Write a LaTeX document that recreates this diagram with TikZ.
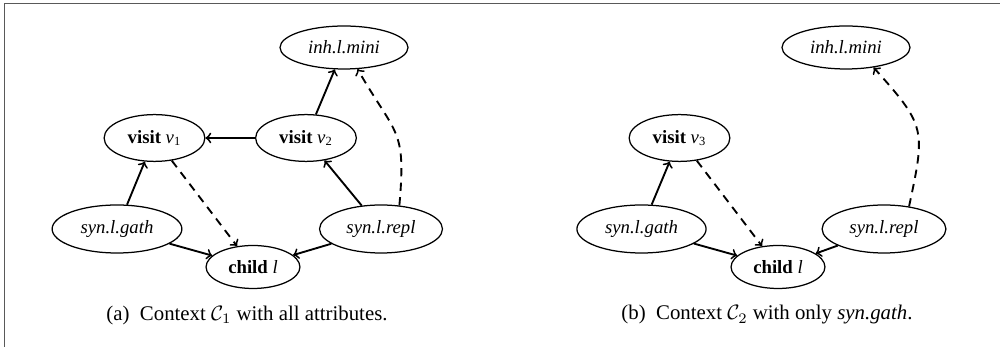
\documentclass[tikz,border=0pt]{standalone}
\usepackage{fontspec}
\setmainfont{Liberation Serif}
\usetikzlibrary{shapes.geometric}
\tikzset{
  attr/.style={ellipse, draw, semithick, inner sep=0pt, font=\small},
  wide/.style={minimum width=2.16cm, minimum height=0.725cm},
  vis/.style={minimum width=1.70cm, minimum height=0.79cm},
  syn/.style={minimum height=0.81cm},
  chl/.style={minimum width=1.585cm, minimum height=0.725cm},
  dep/.style={->, line width=0.9pt},
  ddep/.style={->, line width=0.9pt, dash pattern=on 4pt off 3pt},
  captext/.style={font=\normalsize, inner sep=0pt},
  frameline/.style={draw=black!65, line width=0.9pt}
}
\begin{document}
\begin{tikzpicture}[x=0.01687cm, y=-0.01687cm]
\useasboundingbox (0,0) rectangle (1000,347);
\coordinate (ftr) at (1000,3.5);
\coordinate (ftl) at (4.5,3.5);
\coordinate (fbl) at (4.5,347);
\draw[frameline] (ftr) -- (ftl) -- (fbl);

% (a)
\node[attr, wide] (ma) at (344,47.5) {\textit{inh.l.mini}};
\node[attr, vis] (v1) at (154.5,138) {\textbf{visit} \textit{v}\textsubscript{1}};
\node[attr, vis] (v2) at (306,138) {\textbf{visit} \textit{v}\textsubscript{2}};
\node[attr, syn, minimum width=2.19cm] (ga) at (117,229) {\textit{syn.l.gath}};
\node[attr, syn, minimum width=2.075cm] (ra) at (381,229) {\textit{syn.l.repl}};
\node[attr, chl] (ca) at (253,267) {\textbf{child} \textit{l}};
\node[captext] (capa) at (247,315) {(a)\hspace{0.5em}Context $\mathcal{C}_1$ with all attributes.};

\draw[dep] (ga) -- (v1);
\draw[dep] (ga) -- (ca);
\draw[dep] (ra) -- (ca);
\draw[dep] (ra) -- (v2);
\draw[dep] (v2) -- (v1);
\draw[dep] (v2) -- (ma);
\draw[ddep] (v1) -- (ca);
\draw[ddep] (ra.52) to[out=85, in=-60, looseness=1.4] (ma.-58);

% (b)
\node[attr, wide] (mb) at (846,47.5) {\textit{inh.l.mini}};
\node[attr, vis] (v3) at (679.5,138) {\textbf{visit} \textit{v}\textsubscript{3}};
\node[attr, syn, minimum width=2.18cm] (gb) at (641.5,229) {\textit{syn.l.gath}};
\node[attr, syn, minimum width=2.09cm] (rb) at (884,229) {\textit{syn.l.repl}};
\node[attr, chl] (cb) at (778,267) {\textbf{child} \textit{l}};
\node[captext] (capb) at (767,315) {(b)\hspace{0.5em}Context $\mathcal{C}_2$ with only \textit{syn.gath}.};

\draw[dep] (gb) -- (v3);
\draw[dep] (gb) -- (cb);
\draw[dep] (rb) -- (cb);
\draw[ddep] (v3) -- (cb);
\draw[ddep] (rb.42) to[out=78, in=-48, looseness=1.4] (mb.-36);
\end{tikzpicture}
\end{document}
